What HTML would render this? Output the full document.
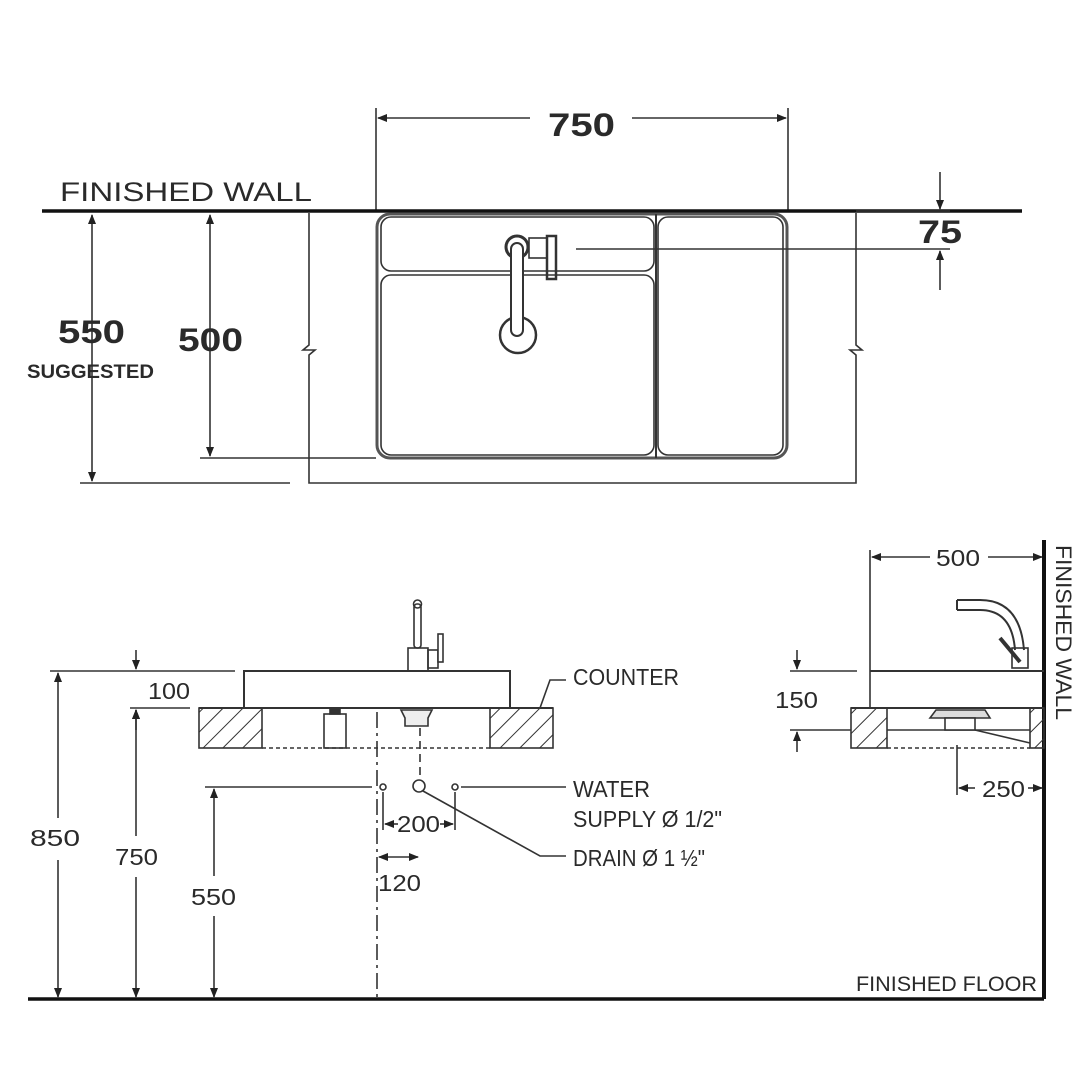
<!DOCTYPE html>
<html><head><meta charset="utf-8"><style>
html,body{margin:0;padding:0;background:#fff}
svg{display:block}
text{font-family:"Liberation Sans",Arial,sans-serif;fill:#2a2a2a}
</style></head><body>
<svg width="1090" height="1090" viewBox="0 0 1090 1090" xmlns="http://www.w3.org/2000/svg">
<defs>
<marker id="a" markerWidth="10" markerHeight="8" refX="9" refY="4" orient="auto" markerUnits="userSpaceOnUse"><path d="M0,0 L10,4 L0,8 z" fill="#222"/></marker>
<marker id="b" markerWidth="10" markerHeight="8" refX="1" refY="4" orient="auto" markerUnits="userSpaceOnUse"><path d="M10,0 L0,4 L10,8 z" fill="#222"/></marker>
<pattern id="h" width="14" height="14" patternUnits="userSpaceOnUse" patternTransform="rotate(45)"><line x1="0" y1="0" x2="0" y2="14" stroke="#333" stroke-width="2"/></pattern>
</defs>
<g stroke="#333" stroke-width="1.6" fill="none">
<!-- TOP VIEW -->
<line x1="376" y1="108" x2="376" y2="212"/><line x1="788" y1="108" x2="788" y2="212"/>
<line x1="378" y1="118" x2="530" y2="118" marker-start="url(#b)"/><line x1="632" y1="118" x2="786" y2="118" marker-end="url(#a)"/>
<line x1="42" y1="211" x2="1022" y2="211" stroke="#111" stroke-width="3.5"/>
<path d="M309,213 V345 l-6,5 l12,0 l-6,5 V483 H856 V355 l-6,-5 l12,0 l-6,-5 V213"/>
<rect x="377" y="214" width="410" height="244" rx="13" stroke-width="3" stroke="#555"/>
<rect x="381" y="217" width="273" height="54" rx="10"/>
<rect x="381" y="275" width="273" height="180" rx="10"/>
<rect x="658" y="217" width="125" height="238" rx="10"/>
<line x1="656" y1="214" x2="656" y2="458" stroke-width="2"/>
<circle cx="518" cy="335" r="18" stroke-width="2.5"/>
<circle cx="517" cy="247" r="11" stroke-width="3"/>
<rect x="511" y="243" width="12" height="93" rx="6" fill="#fff" stroke-width="2"/>
<rect x="529" y="238" width="18" height="20"/><rect x="547" y="236" width="9" height="43" stroke-width="2.5"/>
<line x1="576" y1="249" x2="950" y2="249"/><line x1="856" y1="211" x2="950" y2="211"/>
<line x1="940" y1="172" x2="940" y2="209" marker-end="url(#a)"/>
<line x1="940" y1="290" x2="940" y2="251" marker-end="url(#a)"/>
<line x1="92" y1="215" x2="92" y2="481" marker-start="url(#b)" marker-end="url(#a)"/>
<line x1="80" y1="483" x2="290" y2="483"/>
<line x1="210" y1="215" x2="210" y2="456" marker-start="url(#b)" marker-end="url(#a)"/>
<line x1="200" y1="458" x2="376" y2="458"/>
<!-- LEFT SIDE -->
<rect x="199" y="708" width="63" height="40" fill="url(#h)"/>
<rect x="490" y="708" width="63" height="40" fill="url(#h)"/>
<line x1="199" y1="708" x2="553" y2="708" stroke-width="2"/>
<line x1="262" y1="748" x2="490" y2="748" stroke-dasharray="4,3"/>
<path d="M244,708 V671 H510 V708" stroke-width="2"/>
<rect x="408" y="648" width="20" height="23"/><rect x="428" y="650" width="10" height="18"/>
<rect x="438" y="634" width="5" height="28" fill="#fff"/>
<rect x="414" y="604" width="7" height="44" rx="3"/><circle cx="417.5" cy="604" r="4"/>
<rect x="324" y="714" width="22" height="34"/><rect x="330" y="709" width="10" height="5" fill="#333"/>
<path d="M401,710 H432 L428,718 V726 H405 V718 Z" fill="#eee"/>
<line x1="377" y1="712" x2="377" y2="1000" stroke-dasharray="16,5,3,5"/>
<line x1="420" y1="728" x2="420" y2="780" stroke-dasharray="8,5"/>
<line x1="28" y1="999" x2="1044" y2="999" stroke="#111" stroke-width="3.5"/>
<line x1="50" y1="671" x2="235" y2="671"/>
<line x1="58" y1="673" x2="58" y2="818" marker-start="url(#b)"/><line x1="58" y1="860" x2="58" y2="997" marker-end="url(#a)"/>
<line x1="130" y1="708" x2="190" y2="708"/>
<line x1="136" y1="710" x2="136" y2="836" marker-start="url(#b)"/><line x1="136" y1="877" x2="136" y2="997" marker-end="url(#a)"/>
<line x1="136" y1="650" x2="136" y2="669" marker-end="url(#a)"/><line x1="136" y1="730" x2="136" y2="710" marker-end="url(#a)"/>
<line x1="205" y1="787" x2="372" y2="787"/>
<line x1="214" y1="789" x2="214" y2="876" marker-start="url(#b)"/><line x1="214" y1="916" x2="214" y2="997" marker-end="url(#a)"/>
<circle cx="383" cy="787" r="3"/><circle cx="455" cy="787" r="3"/><circle cx="419" cy="786" r="6"/>
<line x1="461" y1="787" x2="566" y2="787"/>
<path d="M423,791 L540,856 H566"/>
<line x1="383" y1="792" x2="383" y2="830"/><line x1="455" y1="792" x2="455" y2="830"/>
<line x1="385" y1="824" x2="398" y2="824" marker-start="url(#b)"/><line x1="440" y1="824" x2="453" y2="824" marker-end="url(#a)"/>
<line x1="379" y1="857" x2="418" y2="857" marker-start="url(#b)" marker-end="url(#a)"/>
<path d="M540,708 L550,680 H566"/>
<!-- RIGHT SIDE -->
<line x1="1044" y1="540" x2="1044" y2="999" stroke="#111" stroke-width="4"/>
<line x1="870" y1="550" x2="870" y2="708"/>
<line x1="872" y1="557" x2="930" y2="557" marker-start="url(#b)"/><line x1="988" y1="557" x2="1042" y2="557" marker-end="url(#a)"/>
<line x1="870" y1="671" x2="1044" y2="671" stroke-width="2"/>
<line x1="790" y1="671" x2="857" y2="671"/>
<rect x="851" y="708" width="36" height="40" fill="url(#h)"/>
<rect x="1030" y="708" width="14" height="40" fill="url(#h)"/>
<line x1="851" y1="708" x2="1044" y2="708" stroke-width="2"/>
<line x1="887" y1="748" x2="1030" y2="748" stroke-dasharray="4,3"/>
<line x1="887" y1="730" x2="1030" y2="730"/>
<path d="M930,718 L936,710 H985 L990,718 Z" fill="#ddd"/>
<rect x="945" y="718" width="30" height="12" fill="#fff"/>
<line x1="975" y1="730" x2="1030" y2="743"/>
<line x1="790" y1="730" x2="851" y2="730"/>
<line x1="797" y1="650" x2="797" y2="669" marker-end="url(#a)"/><line x1="797" y1="752" x2="797" y2="732" marker-end="url(#a)"/>
<path d="M957,600 H980 Q1020,600 1024,650 M957,610 H980 Q1012,610 1015,650" stroke-width="2"/>
<line x1="957" y1="600" x2="957" y2="610" stroke-width="2"/>
<rect x="1012" y="648" width="16" height="20"/><line x1="1000" y1="638" x2="1020" y2="662" stroke-width="4"/>
<line x1="957" y1="745" x2="957" y2="795"/>
<line x1="959" y1="788" x2="975" y2="788" marker-start="url(#b)"/><line x1="1028" y1="788" x2="1042" y2="788" marker-end="url(#a)"/>
</g>
<g font-size="32" font-weight="bold" lengthAdjust="spacingAndGlyphs">
<text x="548" y="136" textLength="67" lengthAdjust="spacingAndGlyphs">750</text>
<text x="918" y="243" textLength="44" lengthAdjust="spacingAndGlyphs">75</text>
<text x="58" y="343" textLength="67" lengthAdjust="spacingAndGlyphs">550</text>
<text x="178" y="351" textLength="65" lengthAdjust="spacingAndGlyphs">500</text>
</g>
<text x="60" y="201" font-size="27" textLength="252" lengthAdjust="spacingAndGlyphs">FINISHED WALL</text>
<text x="27" y="378" font-size="19" font-weight="bold" textLength="127" lengthAdjust="spacingAndGlyphs">SUGGESTED</text>
<g font-size="23">
<text x="30" y="846" textLength="50" lengthAdjust="spacingAndGlyphs">850</text>
<text x="115" y="865" textLength="43" lengthAdjust="spacingAndGlyphs">750</text>
<text x="191" y="905" textLength="45" lengthAdjust="spacingAndGlyphs">550</text>
<text x="148" y="699" textLength="42" lengthAdjust="spacingAndGlyphs">100</text>
<text x="397" y="832" textLength="43" lengthAdjust="spacingAndGlyphs">200</text>
<text x="378" y="891" textLength="43" lengthAdjust="spacingAndGlyphs">120</text>
<text x="936" y="566" textLength="44" lengthAdjust="spacingAndGlyphs">500</text>
<text x="775" y="708" textLength="43" lengthAdjust="spacingAndGlyphs">150</text>
<text x="982" y="797" textLength="43" lengthAdjust="spacingAndGlyphs">250</text>
<text x="573" y="685" textLength="106" lengthAdjust="spacingAndGlyphs">COUNTER</text>
<text x="573" y="797" textLength="77" lengthAdjust="spacingAndGlyphs">WATER</text>
<text x="573" y="827" textLength="149" lengthAdjust="spacingAndGlyphs">SUPPLY Ø 1/2"</text>
<text x="573" y="866" textLength="132" lengthAdjust="spacingAndGlyphs">DRAIN Ø 1 ½"</text>
<text x="856" y="991" font-size="21" textLength="181" lengthAdjust="spacingAndGlyphs">FINISHED FLOOR</text>
<text transform="translate(1056,545) rotate(90)" font-size="22" textLength="175" lengthAdjust="spacingAndGlyphs">FINISHED WALL</text>
</g>
</svg>
</body></html>
